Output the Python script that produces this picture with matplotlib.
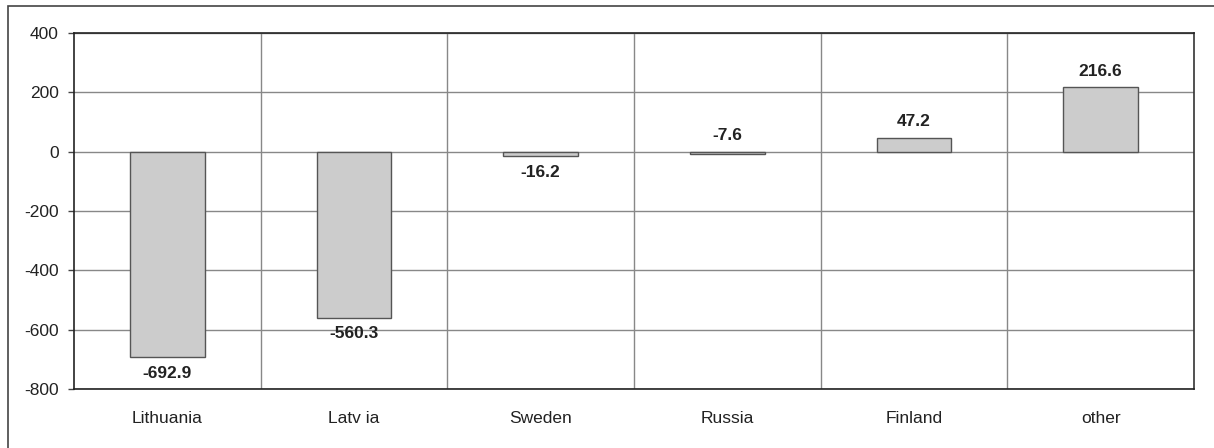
import matplotlib
matplotlib.use("Agg")
import matplotlib.pyplot as plt
from matplotlib.patches import Rectangle

countries = ["Lithuania", "Latv ia", "Sweden", "Russia", "Finland", "other"]
balance = [-692.9, -560.3, -16.2, -7.6, 47.2, 216.6]
yticks = [400, 200, 0, -200, -400, -600, -800]

plt.rcParams["font.family"] = ["Liberation Sans", "DejaVu Sans"]
plt.rcParams["axes.unicode_minus"] = False

fig = plt.figure(figsize=(12.14, 4.48), dpi=100)
ax = fig.add_axes([74 / 1214, 59 / 448, 1120 / 1214, 356 / 448])

# outer frame (only top and left edges fall inside the canvas)
fig.patches.append(Rectangle((8 / 1214, -0.1), 1.2, 1.1 - 6 / 448,
                             transform=fig.transFigure, fill=False,
                             edgecolor="#444444", linewidth=1.2))

x = list(range(len(countries)))
ax.bar(x, balance, width=0.4, color="#cccccc", edgecolor="#555555",
       linewidth=1.0, zorder=3)

for i, v in enumerate(balance):
    if v > -10:
        ax.annotate(f"{v:.1f}", (i, max(v, 0)), xytext=(0, 6),
                    textcoords="offset points", ha="center", va="bottom",
                    fontsize=12.5, fontweight="bold", color="#222222")
    else:
        ax.annotate(f"{v:.1f}", (i, v), xytext=(0, -6),
                    textcoords="offset points", ha="center", va="top",
                    fontsize=12.5, fontweight="bold", color="#222222")

ax.set_xlim(-0.5, len(countries) - 0.5)
ax.set_ylim(-800, 400)
ax.set_yticks(yticks)
ax.set_xticks(x)
ax.set_xticklabels(countries)

# horizontal grid plus vertical separators between categories
for t in yticks:
    ax.axhline(t, color="#888888", linewidth=1.0, zorder=1)
for b in range(1, len(countries)):
    ax.axvline(b - 0.5, color="#888888", linewidth=1.0, zorder=1)

for s in ax.spines.values():
    s.set_color("#222222")
    s.set_linewidth(1.2)
ax.spines["right"].set_color("#333333")

ax.tick_params(axis="y", length=4, width=1, color="#444444", labelsize=12.5,
               labelcolor="#222222", pad=7)
ax.tick_params(axis="x", length=0, labelsize=12.5, labelcolor="#222222", pad=16)

fig.savefig("out.png", dpi=100)
